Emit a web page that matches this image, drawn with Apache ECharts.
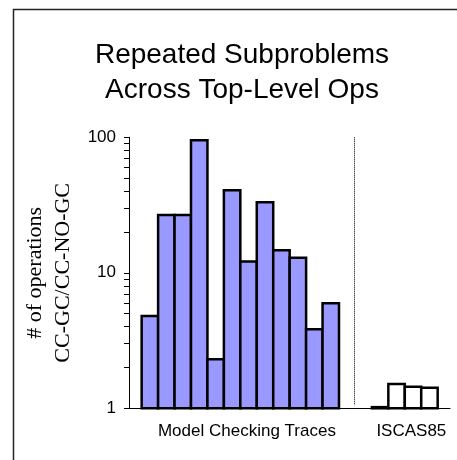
<!DOCTYPE html>
<html>
<head>
<meta charset="utf-8">
<script src="https://cdn.jsdelivr.net/npm/echarts@6/dist/echarts.min.js"></script>
<style>html,body{margin:0;padding:0;background:#fff}#c{width:457px;height:460px}</style>
</head>
<body>
<div id="c"></div>
<script>
var titleLines = ['Repeated Subproblems', 'Across Top-Level Ops'];
var yAxisLines = ['# of operations', 'CC-GC/CC-NO-GC'];
var groupNames = ['Model Checking Traces', 'ISCAS85'];
var modelCheckingValues = [4.8, 26.7, 26.7, 95, 2.3, 40.6, 12.1, 33.1, 14.7, 12.9, 3.83, 5.96];
var iscasValues = [1.02, 1.51, 1.44, 1.42];
var yTickLabels = [1, 10, 100];
var yMinorTicks = [2, 3, 4, 5, 6, 7, 8, 9, 20, 30, 40, 50, 60, 70, 80, 90];

var gapSlots = 2;
var iscasStart = modelCheckingValues.length + gapSlots;
var mcData = modelCheckingValues.map(function (v, i) { return [i, v]; });
var isData = iscasValues.map(function (v, i) { return [iscasStart + i, v]; });
var sepX = modelCheckingValues.length + 0.4;
var mcCenter = (modelCheckingValues.length - 1) / 2 + 0.4;
var isCenter = iscasStart + (iscasValues.length - 1) / 2 + 0.4;

function barItem(fill) {
  return function (params, api) {
    var v = api.value(1);
    var x = api.value(0);
    var p0 = api.coord([x - 0.5, v]);
    var p1 = api.coord([x + 0.5, 1]);
    return {
      type: 'rect',
      shape: { x: p0[0], y: p0[1], width: p1[0] - p0[0], height: p1[1] - p0[1] },
      style: { fill: fill, stroke: '#000', lineWidth: 2.5 }
    };
  };
}

var chart = echarts.init(document.getElementById('c'));
chart.setOption({
  animation: false,
  backgroundColor: '#fff',
  graphic: [{
    type: 'rect', left: 11, top: 7,
    shape: { width: 470, height: 470 },
    style: { fill: 'none', stroke: '#222', lineWidth: 1.5 }
  }],
  title: {
    text: titleLines.join('\n'),
    left: 237, top: 33, textAlign: 'center',
    textStyle: { fontFamily: 'Liberation Sans', fontSize: 28, fontWeight: 'normal', color: '#000', lineHeight: 35 }
  },
  grid: { left: 129, right: 7, top: 137.3, bottom: 460 - 408.3, containLabel: false },
  xAxis: {
    type: 'value', min: -1.27, max: 18.25,
    splitLine: { show: false },
    axisLine: { show: true, lineStyle: { color: '#000', width: 1 } },
    axisTick: { show: false },
    axisLabel: {
      show: true,
      customValues: [mcCenter, isCenter],
      margin: 15,
      fontFamily: 'Liberation Sans', fontSize: 17, color: '#000',
      formatter: function (v) { return v < iscasStart ? groupNames[0] : groupNames[1]; }
    }
  },
  yAxis: {
    type: 'log', logBase: 10, min: 1, max: 100,
    splitLine: { show: false },
    axisLine: { show: true, onZero: false, lineStyle: { color: '#000', width: 1 } },
    axisTick: { show: true, length: 5, customValues: yTickLabels.concat(yMinorTicks), lineStyle: { color: '#000' } },
    axisLabel: {
      customValues: yTickLabels, margin: 13,
      fontFamily: 'Liberation Sans', fontSize: 17, color: '#000'
    },
    name: yAxisLines.join('\n'),
    nameLocation: 'middle', nameRotate: 90, nameGap: 51,
    nameTextStyle: { fontFamily: 'Liberation Serif', fontSize: 22, color: '#000', lineHeight: 28 }
  },
  series: [{
    type: 'custom', data: mcData, renderItem: barItem('#9999FF'),
    encode: { x: 0, y: 1 }, clip: false,
    markLine: {
      silent: true, symbol: 'none', label: { show: false },
      lineStyle: { color: '#000', type: 'dotted', width: 1 },
      data: [[{ coord: [sepX, 100] }, { coord: [sepX, 1.05] }]]
    }
  }, {
    type: 'custom', data: isData, renderItem: barItem('#FFFFFF'),
    encode: { x: 0, y: 1 }, clip: false
  }]
});
</script>
</body>
</html>
